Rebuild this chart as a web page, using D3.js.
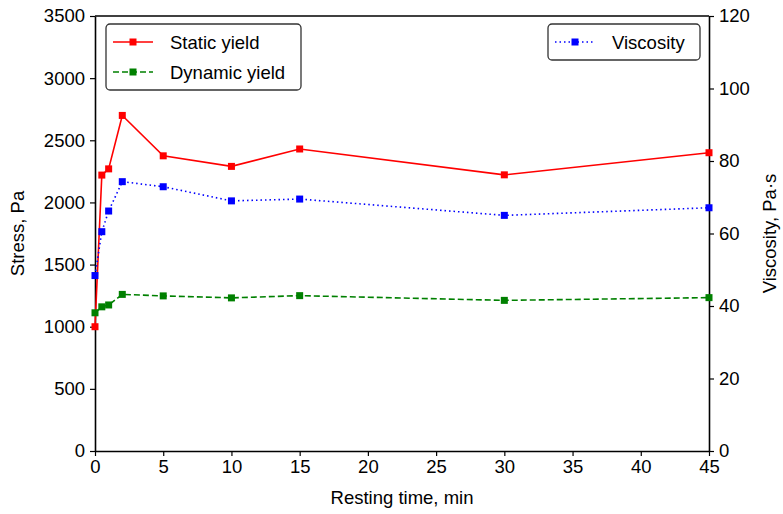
<!DOCTYPE html>
<html>
<head>
<meta charset="utf-8">
<script src="https://cdn.jsdelivr.net/npm/d3@7"></script>
<style>
  html, body { margin: 0; padding: 0; background: #fff; }
  svg { display: block; font-family: 'Liberation Sans', Arial, sans-serif; }
</style>
</head>
<body>
<div id="chart"></div>
<script>
(function () {
  'use strict';

  // Data
  const restTime     = [0, 0.5, 1, 2, 5, 10, 15, 30, 45];
  const staticYield  = [1000, 2220, 2270, 2700, 2375, 2290, 2430, 2222, 2400];
  const dynamicYield = [1112, 1160, 1175, 1260, 1248, 1232, 1250, 1212, 1234];
  const viscosity    = [48.4, 60.5, 66.2, 74.3, 72.9, 69.0, 69.5, 65.0, 67.1];

  const xTicks  = [0, 5, 10, 15, 20, 25, 30, 35, 40, 45];
  const yTicks  = [0, 500, 1000, 1500, 2000, 2500, 3000, 3500];
  const y2Ticks = [0, 20, 40, 60, 80, 100, 120];

  const W = 783, H = 514;
  const FS = 18.5;
  const margin = { top: 16, right: 74, bottom: 63, left: 95 };
  const w = W - margin.left - margin.right;
  const h = H - margin.top - margin.bottom;

  const svg = d3.select('#chart').append('svg')
    .attr('width', W).attr('height', H);
  const g = svg.append('g').attr('transform', `translate(${margin.left},${margin.top})`);

  const x  = d3.scaleLinear().domain([0, 45]).range([0, w]);
  const y  = d3.scaleLinear().domain([0, 3500]).range([h, 0]);
  const y2 = d3.scaleLinear().domain([0, 120]).range([h, 0]);

  // Axes
  const styleAxis = (sel) => {
    sel.attr('font-family', null);
    sel.select('.domain').attr('stroke', '#000').attr('stroke-width', 1.6);
    sel.selectAll('.tick line').attr('stroke', '#000').attr('stroke-width', 1.2);
    sel.selectAll('.tick text').attr('fill', '#000').attr('font-size', FS);
  };

  g.append('g').attr('transform', `translate(0,${h})`)
    .call(d3.axisBottom(x).tickValues(xTicks).tickFormat(d3.format('d'))
      .tickSize(5).tickPadding(4).tickSizeOuter(0))
    .call(styleAxis);
  g.append('g')
    .call(d3.axisLeft(y).tickValues(yTicks).tickFormat(d3.format('d'))
      .tickSize(5).tickPadding(5).tickSizeOuter(0))
    .call(styleAxis);
  g.append('g').attr('transform', `translate(${w},0)`)
    .call(d3.axisRight(y2).tickValues(y2Ticks).tickFormat(d3.format('d'))
      .tickSize(5).tickPadding(5).tickSizeOuter(0))
    .call(styleAxis);
  // top spine
  g.append('line').attr('x1', 0).attr('x2', w).attr('y1', 0).attr('y2', 0)
    .attr('stroke', '#000').attr('stroke-width', 1.6);

  // Axis titles
  svg.append('text')
    .attr('x', margin.left + w / 2).attr('y', H - 10)
    .attr('text-anchor', 'middle').attr('font-size', FS)
    .text('Resting time, min');
  svg.append('text')
    .attr('transform', `translate(24,${margin.top + h / 2}) rotate(-90)`)
    .attr('text-anchor', 'middle').attr('font-size', FS)
    .text('Stress, Pa');
  svg.append('text')
    .attr('transform', `translate(${W - 7},${margin.top + h / 2}) rotate(-90)`)
    .attr('text-anchor', 'middle').attr('font-size', FS)
    .text('Viscosity, Pa·s');

  const series = [
    { name: 'Static yield',  vals: staticYield,  scale: y,  color: '#ff0000', dash: null },
    { name: 'Dynamic yield', vals: dynamicYield, scale: y,  color: '#008000', dash: '6,3' },
    { name: 'Viscosity',     vals: viscosity,    scale: y2, color: '#0000ff', dash: '1.5,3' }
  ];

  const plot = g.append('g');
  series.forEach(s => {
    const line = d3.line()
      .x((d, i) => x(restTime[i]))
      .y(d => s.scale(d));
    plot.append('path')
      .datum(s.vals)
      .attr('fill', 'none')
      .attr('stroke', s.color)
      .attr('stroke-width', 1.6)
      .attr('stroke-dasharray', s.dash)
      .attr('d', line);
    plot.selectAll(null).data(s.vals).enter().append('rect')
      .attr('x', (d, i) => x(restTime[i]) - 3.5)
      .attr('y', d => s.scale(d) - 3.5)
      .attr('width', 7).attr('height', 7)
      .attr('fill', s.color);
  });

  // Legends
  function legend(items, lx, ly, lw) {
    const rowH = 30;
    const lg = g.append('g').attr('transform', `translate(${lx},${ly})`);
    lg.append('rect')
      .attr('x', 0).attr('y', 0)
      .attr('width', lw).attr('height', items.length * rowH + 6)
      .attr('rx', 4)
      .attr('fill', '#fff').attr('stroke', '#333').attr('stroke-width', 1.3);
    items.forEach((s, i) => {
      const cy = 18 + i * rowH;
      lg.append('line')
        .attr('x1', 7).attr('x2', 47).attr('y1', cy).attr('y2', cy)
        .attr('stroke', s.color).attr('stroke-width', 1.6)
        .attr('stroke-dasharray', s.dash);
      lg.append('rect')
        .attr('x', 27 - 3.5).attr('y', cy - 3.5)
        .attr('width', 7).attr('height', 7).attr('fill', s.color);
      lg.append('text')
        .attr('x', 64).attr('y', cy + 6.5)
        .attr('font-size', FS).attr('fill', '#000')
        .text(s.name);
    });
  }
  legend(series.slice(0, 2), 11, 8, 195);
  legend(series.slice(2), 453, 8, 152);
})();
</script>
</body>
</html>
